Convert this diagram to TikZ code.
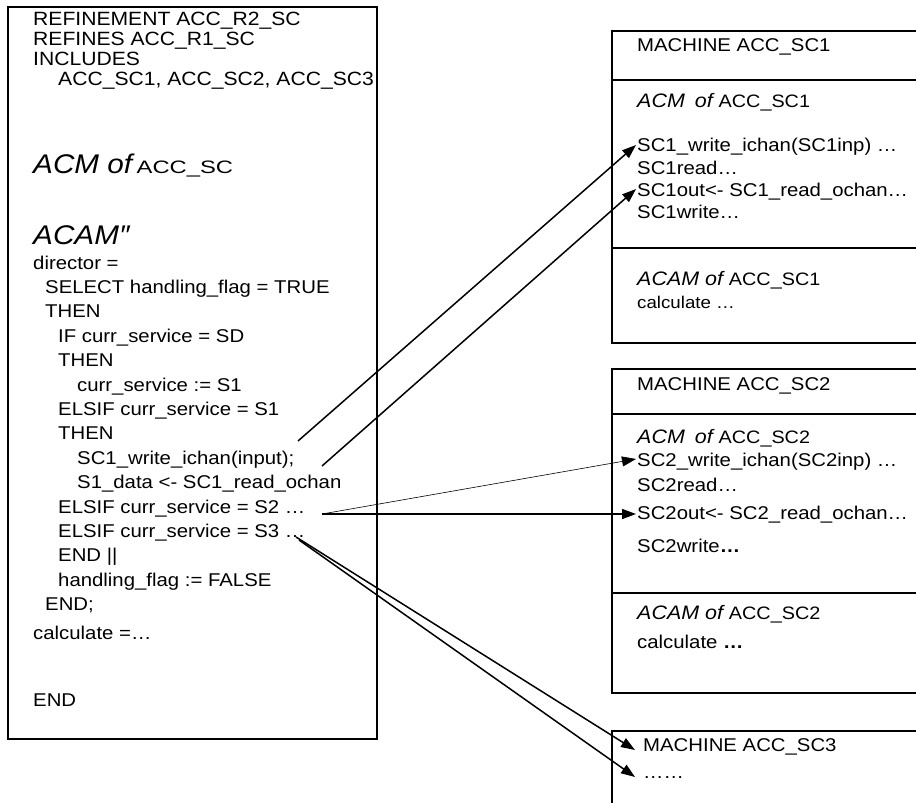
\documentclass[tikz,border=0pt]{standalone}
\usepackage{fontspec}
\usepackage{graphicx}
\setmainfont{Liberation Sans}[FakeStretch=1.1]
\usetikzlibrary{arrows.meta}

\tikzset{
  hdr/.style={anchor=base west, inner sep=0pt, font=\fontsize{19.2}{22}\selectfont},
  txt/.style={anchor=base west, inner sep=0pt, font=\fontsize{18.5}{22}\selectfont},
  sml/.style={anchor=base west, inner sep=0pt, font=\fontsize{17}{20}\selectfont},
  big/.style={anchor=base west, inner sep=0pt, font=\fontsize{27}{30}\selectfont\itshape},
  mid/.style={anchor=base west, inner sep=0pt, font=\fontsize{19.5}{23}\selectfont\itshape},
  frame/.style={draw, line width=1.5pt},
  heavy/.style={line width=1.5pt, -{Triangle[length=14pt,width=10pt]}},
  light/.style={line width=0.6pt, -{Triangle[length=14pt,width=10pt]}},
}
\newcommand{\upname}[1]{{\upshape\fontsize{18}{21}\selectfont #1}}

\begin{document}
\begin{tikzpicture}[x=1pt, y=-1pt]
\clip (0,0) rectangle (916,803);
\fill[white] (0,0) rectangle (916,803);

% ---------- refinement ACC_R2_SC ----------
\draw[frame] (8,7) rectangle (377,739);
\node[hdr] (h1) at (33,25) {REFINEMENT ACC\_R2\_SC};
\node[hdr] (h2) at (33,45) {REFINES ACC\_R1\_SC};
\node[hdr] (h3) at (33,65) {INCLUDES};
\node[hdr] (h4) at (58,85) {ACC\_SC1, ACC\_SC2, ACC\_SC3};
\node[big] (acm) at (33,173) {ACM of\,{\upshape\fontsize{18}{21}\selectfont\scalebox{1.2}[1]{ACC\_SC}}};
\node[big] (acam) at (33,244) {ACAM\symbol{"2033}};

\node[txt] (c0)  at (33,269.0) {director =};
\node[txt] (c1)  at (45,293.4) {SELECT handling\_flag = TRUE};
\node[txt] (c2)  at (45,317.8) {THEN};
\node[txt] (c3)  at (58,342.2) {IF curr\_service = SD};
\node[txt] (c4)  at (58,366.6) {THEN};
\node[txt] (c5)  at (77,391.0) {curr\_service := S1};
\node[txt] (c6)  at (58,415.4) {ELSIF curr\_service = S1};
\node[txt] (c7)  at (58,439.8) {THEN};
\node[txt] (c8)  at (77,464.2) {SC1\_write\_ichan(input);};
\node[txt] (c9)  at (77,488.6) {S1\_data <- SC1\_read\_ochan};
\node[txt] (c10) at (58,513.0) {ELSIF curr\_service = S2 …};
\node[txt] (c11) at (58,537.4) {ELSIF curr\_service = S3 …};
\node[txt] (c12) at (58,561.8) {END ||};
\node[txt] (c13) at (58,586.2) {handling\_flag := FALSE};
\node[txt] (c14) at (45,610.6) {END;};
\node[txt] (c15) at (33,639.0) {calculate =…};
\node[txt] (c16) at (33,706.0) {END};

% ---------- machine ACC_SC1 ----------
\draw[frame] (612,31) rectangle (940,343);
\draw[frame] (612,80) -- (940,80);
\draw[frame] (612,248) -- (940,248);
\node[txt] (m1) at (637,51) {MACHINE ACC\_SC1};
\node[mid] (m1acm) at (637,107) {ACM\hspace{10pt}of \upname{ACC\_SC1}};
\node[txt] (m1a) at (637,151) {SC1\_write\_ichan(SC1inp) …};
\node[txt] (m1b) at (637,174) {SC1read…};
\node[txt] (m1c) at (637,196) {SC1out<- SC1\_read\_ochan…};
\node[txt] (m1d) at (637,218) {SC1write…};
\node[mid] (m1acam) at (637,285) {ACAM of \upname{ACC\_SC1}};
\node[sml] (m1e) at (637,308) {calculate …};

% ---------- machine ACC_SC2 ----------
\draw[frame] (612,369) rectangle (940,693);
\draw[frame] (612,414) -- (940,414);
\draw[frame] (612,593) -- (940,593);
\node[txt] (m2) at (637,390) {MACHINE ACC\_SC2};
\node[mid] (m2acm) at (637,443) {ACM\hspace{10pt}of \upname{ACC\_SC2}};
\node[txt] (m2a) at (637,466) {SC2\_write\_ichan(SC2inp) …};
\node[txt] (m2b) at (637,491) {SC2read…};
\node[txt] (m2c) at (637,519) {SC2out<- SC2\_read\_ochan…};
\node[txt] (m2d) at (637,552) {SC2write\textbf{…}};
\node[mid] (m2acam) at (637,619) {ACAM of \upname{ACC\_SC2}};
\node[txt] (m2e) at (637,648) {calculate \textbf{…}};

% ---------- machine ACC_SC3 ----------
\draw[frame] (612,731) rectangle (940,830);
\node[txt] (m3) at (643,751) {MACHINE ACC\_SC3};
\node[txt] (m3a) at (643,778) {……};

% ---------- connector end points ----------
\coordinate (s1w) at (298,441);
\coordinate (s1r) at (322,466);
\coordinate (s2)  at (322,514);
\coordinate (s3a) at (296,537);
\coordinate (s3b) at (299,540);
\coordinate (t1w) at (636,145);
\coordinate (t1r) at (636,189);
\coordinate (t2w) at (636,459);
\coordinate (t2r) at (636,514);
\coordinate (t3m) at (635,750);
\coordinate (t3d) at (635,777);

\draw[heavy] (s1w) -- (t1w);
\draw[heavy] (s1r) -- (t1r);
\draw[light] (s2) -- (t2w);
\draw[heavy] (s2) -- (t2r);
\draw[heavy] (s3a) -- (t3m);
\draw[heavy] (s3b) -- (t3d);
\end{tikzpicture}
\end{document}
